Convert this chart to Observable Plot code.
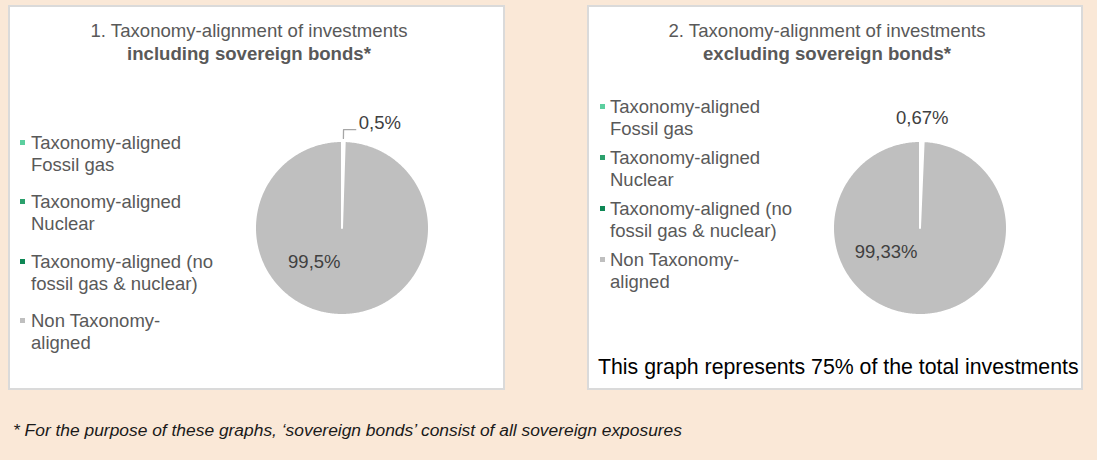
<!DOCTYPE html>
<html><head><meta charset="utf-8">
<script src="https://cdn.jsdelivr.net/npm/d3@7"></script>
<script src="https://cdn.jsdelivr.net/npm/@observablehq/plot@0.6"></script>
<style>
body{margin:0;background:#FAE8D7;font-family:"Liberation Sans",Arial,sans-serif;}
#root{position:relative;width:1097px;height:460px;background:#FAE8D7;overflow:hidden}
.panel{position:absolute;background:#fff;border:2px solid #DADADA;box-sizing:border-box}
.title{position:absolute;width:500px;text-align:center;font-size:18.6px;line-height:23px;color:#595959}
.title b{font-weight:bold}
.legend{position:absolute;display:flex;flex-direction:column;font-size:18.5px;line-height:22px;color:#595959;white-space:nowrap}
.item{position:relative}
.swatch{position:absolute;top:8px;width:5px;height:5px}
.pie{position:absolute}
.note{position:absolute;font-size:21.3px;line-height:24px;color:#000;white-space:nowrap}
.foot{position:absolute;font-size:17.4px;line-height:20px;color:#1a1a1a;font-style:italic;white-space:nowrap}
</style></head>
<body><div id="root"></div>
<script>
const categories = ["Taxonomy-aligned Fossil gas","Taxonomy-aligned Nuclear","Taxonomy-aligned (no fossil gas & nuclear)","Non Taxonomy-aligned"];
const legendLines = [["Taxonomy-aligned","Fossil gas"],["Taxonomy-aligned","Nuclear"],["Taxonomy-aligned (no","fossil gas & nuclear)"],["Non Taxonomy-","aligned"]];
const legendColors = ["#5CCF9F","#2BA06C","#0E8755","#BFBFBF"];
const sliceColors = ["#5CCF9F","#2BA06C","#FFFFFF","#BFBFBF"];
const valuesIncl = [0, 0, 0.5, 99.5];
const valuesExcl = [0, 0, 0.67, 99.33];
const titleIncl = ["1. Taxonomy-alignment of investments", "including sovereign bonds*"];
const titleExcl = ["2. Taxonomy-alignment of investments", "excluding sovereign bonds*"];
const coverageNote = "This graph represents 75% of the total investments";
const footnote = "* For the purpose of these graphs, \u2018sovereign bonds\u2019 consist of all sovereign exposures";

const root = document.getElementById("root");
function el(cls, css, html){const d=document.createElement("div");d.className=cls;Object.assign(d.style,css);if(html!=null)d.innerHTML=html;root.appendChild(d);return d;}

const fmt = v => String(v).replace(".", ",") + "%";
const pol = (a, r) => ({x: r*Math.sin(a), y: r*Math.cos(a)});

function pieSvg(values, opts){
  const data = categories.map((c,i)=>({cat:c, value:values[i]}));
  const arcs = d3.pie().sort(null).value(d=>d.value)(data).filter(a=>a.value>0);
  const pts = [];
  for (const a of arcs){
    pts.push({cat:a.data.cat, x:0, y:0});
    const n = Math.max(2, Math.ceil((a.endAngle-a.startAngle)/0.01));
    for (let k=0;k<=n;k++){const t=a.startAngle+(a.endAngle-a.startAngle)*k/n; const p=pol(t,1); pts.push({cat:a.data.cat, x:p.x, y:p.y});}
  }
  const mid = a => (a.startAngle+a.endAngle)/2;
  const small = arcs.find(a=>a.value<50), big = arcs.find(a=>a.value>=50);
  const marks = [
    Plot.line(pts, {x:"x", y:"y", z:"cat", fill:"cat", stroke:"white", strokeWidth:2, curve:"linear-closed"})
  ];
  const bp = pol(mid(big), 0.5);
  marks.push(Plot.text([{...bp, label: fmt(big.value)}], {x:"x", y:"y", text:"label", fill:"#404040", fontSize:18.5, dx:opts.bigDx, dy:opts.bigDy}));
  if (opts.leader){
    const p0 = pol(mid(small), 1.03), p1 = pol(mid(small), 1.13);
    const p2 = {x: p1.x + 0.14, y: p1.y};
    marks.push(Plot.line([p0,p1,p2], {x:"x", y:"y", stroke:"#A6A6A6", strokeWidth:1.3}));
    marks.push(Plot.text([{...p2, label: fmt(small.value)}], {x:"x", y:"y", text:"label", fill:"#404040", fontSize:18.5, textAnchor:"start", dx:3, dy:-7}));
  } else {
    const sp = pol(mid(small), 1.26);
    marks.push(Plot.text([{...sp, label: fmt(small.value)}], {x:"x", y:"y", text:"label", fill:"#404040", fontSize:18.5}));
  }
  return Plot.plot({
    width:261, height:261, margin:0,
    x:{domain:[-1.5,1.5], axis:null},
    y:{domain:[-1.5,1.5], axis:null},
    color:{domain:categories, range:sliceColors},
    style:{background:"transparent", overflow:"visible", fontFamily:'"Liberation Sans", Arial, sans-serif'},
    marks
  });
}

function legend(left, top, gap, swLeft){
  const lg = el("legend", {left:left+"px", top:top+"px", gap:gap+"px"});
  legendLines.forEach((lines,i)=>{
    const it = document.createElement("div"); it.className="item";
    it.innerHTML = lines.join("<br>");
    const sw = document.createElement("div"); sw.className="swatch";
    Object.assign(sw.style, {left:swLeft+"px", background:legendColors[i]});
    it.appendChild(sw); lg.appendChild(it);
  });
}

// panel 1
el("panel", {left:"8px", top:"5px", width:"497px", height:"385px"});
el("title", {left:(249-250)+"px", top:"18.5px"}, titleIncl[0] + "<br><b>" + titleIncl[1] + "</b>");
legend(31, 132, 15.3, -11);
const p1 = pieSvg(valuesIncl, {leader:true, bigDx:-27, bigDy:-9});
const d1 = el("pie", {left:(341-130.5)+"px", top:(227.5-130.5)+"px"}); d1.appendChild(p1);

// panel 2
el("panel", {left:"587px", top:"5px", width:"496px", height:"385px"});
el("title", {left:(827-250)+"px", top:"18.5px"}, titleExcl[0] + "<br><b>" + titleExcl[1] + "</b>");
legend(610, 96, 7, -10.5);
const p2 = pieSvg(valuesExcl, {leader:false, bigDx:-33, bigDy:-19});
const d2 = el("pie", {left:(919-130.5)+"px", top:(227.5-130.5)+"px"}); d2.appendChild(p2);
el("note", {left:"598px", top:"355px"}, coverageNote);

el("foot", {left:"13px", top:"420px"}, footnote);
</script>
</body></html>
